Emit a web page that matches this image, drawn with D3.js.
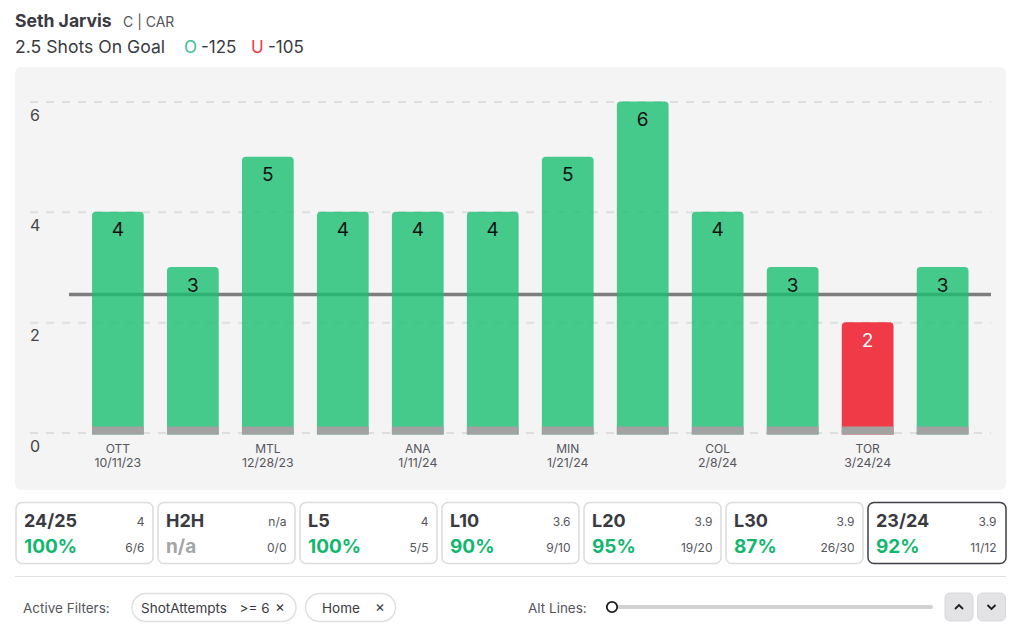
<!DOCTYPE html>
<html>
<head>
<meta charset="utf-8">
<script src="https://cdn.jsdelivr.net/npm/d3@7"></script>
<style>
html, body { margin: 0; padding: 0; background: #fff; }
svg { display: block; }
text { font-family: Inter, "Noto Sans", sans-serif; }
.domain { display: none; }
</style>
</head>
<body>
<svg id="chart" width="1024" height="630"></svg>
<script>
var games = ["g1","g2","g3","g4","g5","g6","g7","g8","g9","g10","g11","g12"];
var shots = [4, 3, 5, 4, 4, 4, 5, 6, 4, 3, 2, 3];
var teams = ["OTT","","MTL","","ANA","","MIN","","COL","","TOR",""];
var dates = ["10/11/23","","12/28/23","","1/11/24","","1/21/24","","2/8/24","","3/24/24",""];
var yTicks = [0, 2, 4, 6];
var propLine = 2.5;

var cardNames = ["24/25","H2H","L5","L10","L20","L30","23/24"];
var cardAvgs = ["4","n/a","4","3.6","3.9","3.9","3.9"];
var cardPcts = ["100%","n/a","100%","90%","95%","87%","92%"];
var cardHits = ["6/6","0/0","5/5","9/10","19/20","26/30","11/12"];
var cardLefts = [16, 158, 300, 442, 584, 726, 868];

var svg = d3.select('#chart');
var GREEN = '#12b76f', DARK = '#3a3a42', GREY = '#55555c';

function txt(x, y, s, size, color, weight, anchor) {
	return svg.append('text').attr('x', x).attr('y', y).text(s)
		.attr('font-size', size).attr('fill', color)
		.attr('font-weight', weight || 400).attr('text-anchor', anchor || 'start');
}

// header
txt(15, 27, 'Seth Jarvis', 17.6, DARK, 700);
txt(123, 27, 'C | CAR', 14, GREY);
txt(15, 53, '2.5 Shots On Goal', 17.6, DARK);
txt(184, 53, 'O', 17, '#3cc194');
txt(201, 53, '-125', 17, DARK);
txt(251, 53, 'U', 17, '#ee3b4a');
txt(268, 53, '-105', 17, DARK);

// chart panel
svg.append('rect').attr('x', 15).attr('y', 67).attr('width', 991).attr('height', 423)
	.attr('rx', 6).attr('fill', '#f4f4f4');

var x = d3.scaleBand().domain(games).range([92, 968.5]).paddingInner(0.31).paddingOuter(0);
var y = d3.scaleLinear().domain([0, 6]).range([432.5, 101.5]);

var yAxis = svg.append('g').attr('transform', 'translate(30,0)')
	.call(d3.axisRight(y).tickValues(yTicks).tickSize(961).tickFormat(d3.format('d')));
yAxis.selectAll('line').attr('stroke', '#dedede').attr('stroke-width', 2).attr('stroke-dasharray', '8 8');
yAxis.selectAll('text').attr('x', 0).attr('dy', 18.5).attr('font-size', 16).attr('fill', '#444')
	.style('font-family', 'Inter, "Noto Sans", sans-serif');

// prop line sits under the see-through bars
svg.append('line').attr('x1', 69).attr('x2', 991)
	.attr('y1', y(propLine)).attr('y2', y(propLine))
	.attr('stroke', '#7d7d7d').attr('stroke-width', 3.5);

function barPath(d, i) {
	var l = x(games[i]), r = l + x.bandwidth(), t = y(d), b = y(0) + 2, c = 4;
	return 'M' + l + ',' + b + 'V' + (t + c) + 'Q' + l + ',' + t + ' ' + (l + c) + ',' + t +
		'H' + (r - c) + 'Q' + r + ',' + t + ' ' + r + ',' + (t + c) + 'V' + b + 'Z';
}

svg.append('g').selectAll('path').data(shots).join('path')
	.attr('d', barPath)
	.attr('fill', function(d) { return d > propLine ? '#19bf72' : '#ef0b1d'; })
	.attr('opacity', 0.8);

// grey foot of each bar
svg.append('g').selectAll('rect').data(games).join('rect')
	.attr('x', function(d) { return x(d); })
	.attr('y', y(0) - 6)
	.attr('width', x.bandwidth())
	.attr('height', 8)
	.attr('fill', '#a2a2a2');

svg.append('g').selectAll('text').data(shots).join('text')
	.attr('x', function(d, i) { return x(games[i]) + x.bandwidth() / 2; })
	.attr('y', function(d) { return y(d) + 24.5; })
	.attr('text-anchor', 'middle')
	.attr('font-size', 19)
	.attr('fill', function(d) { return d > propLine ? '#111' : '#fff'; })
	.text(function(d) { return d; });

var labels = svg.append('g').selectAll('g').data(games).join('g');
labels.append('text')
	.attr('x', function(d) { return x(d) + x.bandwidth() / 2; }).attr('y', 453)
	.attr('text-anchor', 'middle').attr('font-size', 12).attr('fill', GREY)
	.text(function(d, i) { return teams[i]; });
labels.append('text')
	.attr('x', function(d) { return x(d) + x.bandwidth() / 2; }).attr('y', 467)
	.attr('text-anchor', 'middle').attr('font-size', 12.3).attr('fill', GREY)
	.text(function(d, i) { return dates[i]; });

// stat cards
var cards = svg.append('g').selectAll('g').data(cardNames).join('g')
	.attr('transform', function(d, i) { return 'translate(' + cardLefts[i] + ',502.5)'; });
cards.append('rect').attr('width', function(d, i) { return i == 6 ? 138 : 137; }).attr('height', 61).attr('rx', 6)
	.attr('fill', '#fff')
	.attr('stroke', function(d, i) { return i == 6 ? '#3f3f46' : '#dcdcdc'; })
	.attr('stroke-width', 1.5);
cards.append('text').attr('x', 8).attr('y', 24).attr('font-size', 18).attr('font-weight', 700).attr('fill', DARK)
	.text(function(d) { return d; });
cards.append('text').attr('x', 128.5).attr('y', 23).attr('text-anchor', 'end').attr('font-size', 12).attr('fill', GREY)
	.text(function(d, i) { return cardAvgs[i]; });
cards.append('text').attr('x', 8).attr('y', 50).attr('font-size', 19).attr('font-weight', 700)
	.attr('fill', function(d, i) { return cardPcts[i] == 'n/a' ? '#a5a5a5' : GREEN; })
	.text(function(d, i) { return cardPcts[i]; });
cards.append('text').attr('x', 128.5).attr('y', 49).attr('text-anchor', 'end').attr('font-size', 12).attr('fill', GREY)
	.text(function(d, i) { return cardHits[i]; });

svg.append('line').attr('x1', 15).attr('x2', 1006).attr('y1', 576.5).attr('y2', 576.5).attr('stroke', '#e2e2e2');

// filters row
txt(23, 613, 'Active Filters:', 13.5, GREY);
svg.append('rect').attr('x', 132).attr('y', 593.5).attr('width', 164).attr('height', 28).attr('rx', 14)
	.attr('fill', '#fff').attr('stroke', '#e0e0e0').attr('stroke-width', 1.5);
txt(141, 613, 'ShotAttempts', 13.5, DARK);
txt(239.5, 613, '>= 6', 13.5, DARK);
txt(275, 612, '×', 15, DARK);
svg.append('rect').attr('x', 305.5).attr('y', 593.5).attr('width', 90).attr('height', 28).attr('rx', 14)
	.attr('fill', '#fff').attr('stroke', '#e0e0e0').attr('stroke-width', 1.5);
txt(322, 613, 'Home', 13.5, DARK);
txt(375, 612, '×', 15, DARK);

txt(528, 613, 'Alt Lines:', 13.5, GREY);
svg.append('rect').attr('x', 612).attr('y', 605).attr('width', 321).attr('height', 4).attr('rx', 2).attr('fill', '#d2d2d2');
svg.append('circle').attr('cx', 612).attr('cy', 607).attr('r', 5.2).attr('fill', '#fff')
	.attr('stroke', '#1c1c20').attr('stroke-width', 1.8);

// alt line buttons
[[945, -1], [977.5, 1]].forEach(function(b) {
	svg.append('rect').attr('x', b[0]).attr('y', 593).attr('width', 28).attr('height', 28).attr('rx', 5)
		.attr('fill', '#e3e3e6').attr('stroke', '#d8d8da');
	var cx = b[0] + 14, cy = 607;
	svg.append('path').attr('d', 'M' + (cx - 4) + ',' + (cy - 2 * b[1]) + 'L' + cx + ',' + (cy + 2 * b[1]) + 'L' + (cx + 4) + ',' + (cy - 2 * b[1]))
		.attr('fill', 'none').attr('stroke', '#1c1c20').attr('stroke-width', 1.8);
});
</script>
</body>
</html>
